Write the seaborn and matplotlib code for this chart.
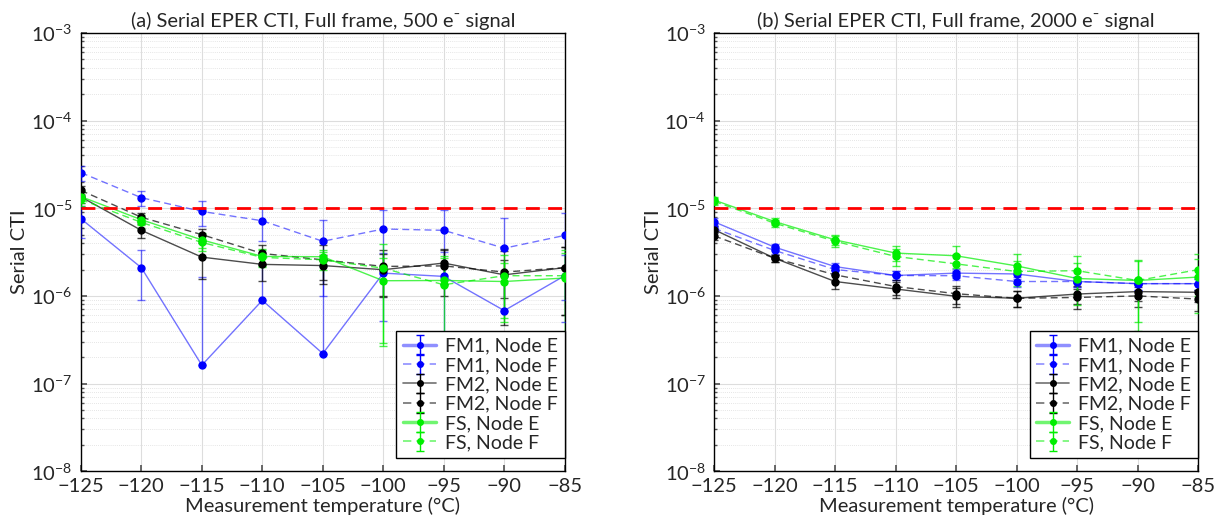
import numpy as np
import matplotlib
matplotlib.use("Agg")
import matplotlib.pyplot as plt
import matplotlib.ticker as mticker
import seaborn as sns
import pandas as pd

# ---------------- data ----------------
temps = [-125, -120, -115, -110, -105, -100, -95, -90, -85]
series_labels = ["FM1, Node E", "FM1, Node F", "FM2, Node E", "FM2, Node F", "FS, Node E", "FS, Node F"]

# (a) 500 e- signal
a_fm1_e = [7.6e-6, 2.1e-6, 1.62e-7, 8.9e-7, 2.2e-7, 1.82e-6, 1.67e-6, 6.8e-7, 1.7e-6]
a_fm1_f = [2.55e-5, 1.32e-5, 9.2e-6, 7.2e-6, 4.2e-6, 5.8e-6, 5.6e-6, 3.5e-6, 4.9e-6]
a_fm2_e = [1.35e-5, 5.6e-6, 2.77e-6, 2.29e-6, 2.22e-6, 1.99e-6, 2.37e-6, 1.74e-6, 2.1e-6]
a_fm2_f = [1.6e-5, 7.9e-6, 5.0e-6, 3.05e-6, 2.58e-6, 2.17e-6, 2.2e-6, 1.87e-6, 2.1e-6]
a_fs_e = [1.36e-5, 7.4e-6, 4.36e-6, 2.82e-6, 2.8e-6, 1.49e-6, 1.5e-6, 1.46e-6, 1.6e-6]
a_fs_f = [1.26e-5, 6.9e-6, 4.07e-6, 2.75e-6, 2.58e-6, 2.07e-6, 1.34e-6, 1.7e-6, 1.7e-6]

a_fm1_e_err = [3.0e-6, 1.2e-6, 1.5e-6, 2.0e-6, 2.0e-6, 1.3e-6, 1.5e-6, 1.0e-6, 1.2e-6]
a_fm1_f_err = [5.0e-6, 2.5e-6, 3.0e-6, 3.0e-6, 3.2e-6, 3.8e-6, 4.0e-6, 4.2e-6, 4.0e-6]
a_fm2_e_err = [2.0e-6, 1.0e-6, 1.2e-6, 8.0e-7, 7.0e-7, 1.0e-6, 1.0e-6, 8.0e-7, 1.5e-6]
a_fm2_f_err = [2.0e-6, 1.0e-6, 8.0e-7, 8.0e-7, 1.2e-6, 1.2e-6, 1.2e-6, 1.4e-6, 1.5e-6]
a_fs_e_err = [2.0e-6, 1.0e-6, 8.0e-7, 6.0e-7, 5.0e-7, 1.2e-6, 1.2e-6, 9.0e-7, 1.5e-6]
a_fs_f_err = [2.0e-6, 1.0e-6, 8.0e-7, 6.0e-7, 6.0e-7, 1.8e-6, 1.5e-6, 1.2e-6, 1.6e-6]

# (b) 2000 e- signal
b_fm1_e = [7.0e-6, 3.6e-6, 2.16e-6, 1.71e-6, 1.82e-6, 1.78e-6, 1.46e-6, 1.38e-6, 1.38e-6]
b_fm1_f = [5.9e-6, 3.3e-6, 2.0e-6, 1.71e-6, 1.7e-6, 1.46e-6, 1.46e-6, 1.38e-6, 1.38e-6]
b_fm2_e = [5.7e-6, 2.69e-6, 1.46e-6, 1.2e-6, 9.9e-7, 9.4e-7, 1.05e-6, 1.12e-6, 1.1e-6]
b_fm2_f = [4.84e-6, 2.69e-6, 1.74e-6, 1.28e-6, 1.06e-6, 9.4e-7, 9.6e-7, 1.0e-6, 9.2e-7]
b_fs_e = [1.24e-5, 7.05e-6, 4.36e-6, 3.08e-6, 2.87e-6, 2.2e-6, 1.58e-6, 1.5e-6, 1.64e-6]
b_fs_f = [1.2e-5, 6.75e-6, 4.2e-6, 2.82e-6, 2.32e-6, 1.9e-6, 1.94e-6, 1.5e-6, 1.99e-6]

b_fm1_e_err = [7.0e-7, 3.0e-7, 2.0e-7, 2.0e-7, 2.0e-7, 2.0e-7, 2.0e-7, 2.0e-7, 2.0e-7]
b_fm1_f_err = [6.0e-7, 3.0e-7, 2.0e-7, 2.0e-7, 2.0e-7, 2.0e-7, 2.0e-7, 2.0e-7, 2.0e-7]
b_fm2_e_err = [5.0e-7, 2.5e-7, 2.5e-7, 2.5e-7, 2.5e-7, 2.0e-7, 2.5e-7, 2.5e-7, 2.5e-7]
b_fm2_f_err = [5.0e-7, 2.5e-7, 2.5e-7, 2.5e-7, 2.5e-7, 2.0e-7, 2.5e-7, 2.5e-7, 2.5e-7]
b_fs_e_err = [1.2e-6, 6.0e-7, 6.0e-7, 6.0e-7, 8.0e-7, 8.0e-7, 8.0e-7, 1.0e-6, 1.0e-6]
b_fs_f_err = [1.2e-6, 6.0e-7, 6.0e-7, 6.0e-7, 6.0e-7, 6.0e-7, 9.0e-7, 1.1e-6, 1.0e-6]

threshold = 1e-5
titles = ["(a) Serial EPER CTI, Full frame, 500 e\u207b signal",
          "(b) Serial EPER CTI, Full frame, 2000 e\u207b signal"]
xlabel = "Measurement temperature (\u00b0C)"
ylabel = "Serial CTI"

# ---------------- style ----------------
sns.set_theme(style="white")
plt.rcParams['font.family'] = ['Lato', 'DejaVu Sans']
plt.rcParams['mathtext.fontset'] = 'custom'
plt.rcParams['mathtext.rm'] = 'Lato'
plt.rcParams['mathtext.it'] = 'Lato:italic'
plt.rcParams['mathtext.bf'] = 'Lato:bold'

FS = 14.5
LFS = 14

colors = ["#0000ff", "#0000ff", "#000000", "#000000", "#00ee00", "#00ee00"]
line_alpha = [0.55, 0.55, 0.7, 0.7, 0.7, 0.7]
styles = ["-", (0, (5, 3)), "-", (0, (5, 3)), "-", (0, (5, 3))]

fig = plt.figure(figsize=(12.25, 5.23), dpi=100)
ax_a = fig.add_axes([0.066, 0.099, 0.395, 0.838])
ax_b = fig.add_axes([0.583, 0.099, 0.395, 0.838])

panels = [
    (ax_a, [a_fm1_e, a_fm1_f, a_fm2_e, a_fm2_f, a_fs_e, a_fs_f],
     [a_fm1_e_err, a_fm1_f_err, a_fm2_e_err, a_fm2_f_err, a_fs_e_err, a_fs_f_err]),
    (ax_b, [b_fm1_e, b_fm1_f, b_fm2_e, b_fm2_f, b_fs_e, b_fs_f],
     [b_fm1_e_err, b_fm1_f_err, b_fm2_e_err, b_fm2_f_err, b_fs_e_err, b_fs_f_err]),
]

for pi, (ax, vals, errs) in enumerate(panels):
    ax.set_yscale('log')
    thr_df = pd.DataFrame({"T": [temps[0], temps[-1]], "v": [threshold, threshold]})
    sns.lineplot(data=thr_df, x="T", y="v", ax=ax, color="#ff0000", lw=2,
                 linestyle=(0, (5, 3)), legend=False, zorder=5)
    for i, (v, e) in enumerate(zip(vals, errs)):
        v = np.array(v)
        e = np.array(e)
        lo = np.where(e >= v, 0.0, e)
        c = matplotlib.colors.to_rgba(colors[i])
        lc = (c[0], c[1], c[2], line_alpha[i])
        df = pd.DataFrame({"T": temps, "v": v})
        sns.lineplot(data=df, x="T", y="v", ax=ax, color=lc, lw=1.0,
                     linestyle=styles[i], legend=False, zorder=3)
        ax.errorbar(temps, v, yerr=[lo, e], fmt='o', color=colors[i],
                    ecolor=lc, elinewidth=1.0, capsize=3, capthick=1.0,
                    markersize=5, zorder=4)
    proxies = []
    for i in range(6):
        c = matplotlib.colors.to_rgba(colors[i])
        lc = (c[0], c[1], c[2], line_alpha[i] * 0.8)
        lw = 2.5 if i in (0, 4) else 1.2
        p = ax.errorbar([np.nan], [np.nan], yerr=[[np.nan], [np.nan]], fmt='o',
                        linestyle=styles[i], color=lc, mfc=colors[i], mec=colors[i],
                        ecolor=colors[i], elinewidth=1.0, capsize=3, markersize=4, lw=lw)
        proxies.append(p)
    leg = ax.legend(proxies, series_labels, loc='lower right',
                    bbox_to_anchor=(1.0, 0.03), fontsize=LFS,
                    frameon=True, fancybox=False, framealpha=1, edgecolor='black',
                    borderaxespad=0.0, handlelength=1.7, labelspacing=0.12,
                    borderpad=0.35, handletextpad=0.45)
    leg.get_frame().set_linewidth(1.0)

    ax.set_xlim(-125, -85)
    ax.set_ylim(1e-8, 1e-3)
    ax.set_xticks(temps)
    ax.set_xticklabels(["\u2212" + str(abs(t)) for t in temps])
    ax.yaxis.set_major_locator(mticker.LogLocator(base=10, numticks=10))
    ax.yaxis.set_minor_locator(mticker.LogLocator(base=10, subs=np.arange(2, 10), numticks=20))
    ax.yaxis.set_minor_formatter(mticker.NullFormatter())
    ax.grid(True, which='major', color='#dddddd', lw=0.8, ls='-')
    ax.grid(True, which='minor', axis='y', color='#dddddd', lw=0.6, ls=(0, (1, 1.5)))
    ax.tick_params(axis='both', which='both', direction='in', labelsize=FS,
                   left=True, bottom=True, length=4, color='#555555')
    ax.tick_params(axis='x', which='major', pad=5)
    ax.tick_params(axis='y', which='major', pad=6)
    ax.tick_params(axis='y', which='minor', length=2)
    ax.set_xlabel(xlabel, fontsize=FS, labelpad=1)
    ax.set_ylabel(ylabel, fontsize=FS, labelpad=2)
    ax.set_title(titles[pi], fontsize=FS, pad=4)
    for s in ax.spines.values():
        s.set_color('black')
        s.set_linewidth(1.0)

fig.savefig("out.png", dpi=100)
